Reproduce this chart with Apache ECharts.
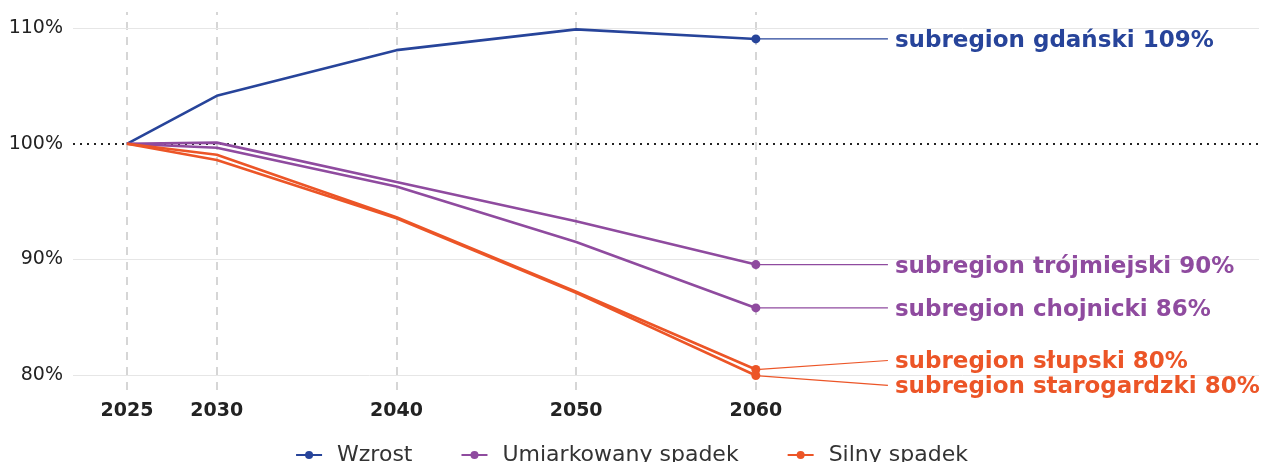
<!DOCTYPE html>
<html>
<head>
<meta charset="utf-8">
<script src="https://cdn.jsdelivr.net/npm/echarts@6/dist/echarts.min.js"></script>
<style>
  html, body { margin: 0; padding: 0; background: #fff; }
  #chart { width: 1263px; height: 462px; }
</style>
</head>
<body>
<div id="chart"></div>
<script>
// Population index (2025 = 100%) by subregion
const years = [2025, 2030, 2040, 2050, 2060];
const gdanski = [100, 104.15, 108.1, 109.9, 109.07];
const trojmiejski = [100, 100.1, 96.7, 93.3, 89.55];
const chojnicki = [100, 99.65, 96.3, 91.5, 85.8];
const slupski = [100, 99.05, 93.65, 87.2, 80.47];
const starogardzki = [100, 98.6, 93.55, 87.1, 79.95];

const regionNames = ['subregion gdański', 'subregion trójmiejski', 'subregion chojnicki', 'subregion słupski', 'subregion starogardzki'];
const groupNames = ['Wzrost', 'Umiarkowany spadek', 'Umiarkowany spadek', 'Silny spadek', 'Silny spadek'];
const legendNames = ['Wzrost', 'Umiarkowany spadek', 'Silny spadek'];
const yTicks = [80, 90, 100, 110];

// styling / layout
const groupColors = { 'Wzrost': '#27449a', 'Umiarkowany spadek': '#8f4b9f', 'Silny spadek': '#ec5527' };
const labelEndX = 2067.35;                 // where the leader lines end
const labelY = [null, null, null, 81.25, 79.1]; // separated label positions for overlapping ends
const FONT = '"DejaVu Sans", "Noto Sans", sans-serif';

const seriesData = [gdanski, trojmiejski, chojnicki, slupski, starogardzki];

const mainSeries = seriesData.map((vals, i) => ({
  name: groupNames[i],
  type: 'line',
  zlevel: 1,
  data: years.map((y, k) => [y, vals[k]]),
  color: groupColors[groupNames[i]],
  lineStyle: { width: 2.6 },
  symbol: 'circle',
  symbolSize: (v, p) => (p.dataIndex === years.length - 1 ? 9 : 0),
  showSymbol: true,
  z: 5,
  silent: true
}));

const leaderSeries = seriesData.map((vals, i) => {
  const last = vals[vals.length - 1];
  const ly = labelY[i] == null ? last : labelY[i];
  return {
    name: groupNames[i],
    type: 'line',
    zlevel: 1,
    data: [[years[years.length - 1], last], [labelEndX, ly]],
    color: groupColors[groupNames[i]],
    lineStyle: { width: 1.2 },
    symbol: 'none',
    z: 4,
    silent: true,
    endLabel: {
      show: true,
      distance: 7,
      offset: [0, 2],
      formatter: () => regionNames[i] + ' ' + Math.round(last) + '%',
      color: groupColors[groupNames[i]],
      fontFamily: FONT,
      fontWeight: 'bold',
      fontSize: 23
    }
  };
});

// frame lines: vertical dashed year guides, horizontal grid lines, dotted 100% baseline
const frameSeries = {
  type: 'line',
  data: [],
  silent: true,
  zlevel: 0,
  z: 1,
  markLine: {
    silent: true,
    symbol: 'none',
    label: { show: false },
    animation: false,
    data: [
      ...years.map(y => ({ xAxis: y, lineStyle: { color: '#d6d6d6', width: 2, type: [8, 7] } })),
      ...yTicks.filter(t => t !== 100).map(t => ({ yAxis: t, lineStyle: { color: '#e6e6e6', width: 1, type: 'solid' } })),
      { yAxis: 100, lineStyle: { color: '#222', width: 2, type: [2, 5] } }
    ]
  }
};

const chart = echarts.init(document.getElementById('chart'), null, { renderer: 'canvas' });
chart.setOption({
  animation: false,
  backgroundColor: '#fff',
  grid: { left: 73, right: 4, top: 12, bottom: 72, containLabel: false },
  xAxis: {
    type: 'value',
    min: 2022,
    max: 2088,
    axisLine: { show: false },
    axisTick: { show: false },
    splitLine: { show: false },
    axisLabel: {
      customValues: years,
      formatter: v => String(v),
      margin: 12,
      color: '#222',
      fontFamily: FONT,
      fontWeight: 'bold',
      fontSize: 19
    }
  },
  yAxis: {
    type: 'value',
    min: 78.7,
    max: 111.4,
    axisLine: { show: false },
    axisTick: { show: false },
    splitLine: { show: false },
    axisLabel: {
      customValues: yTicks,
      formatter: v => v + '%',
      margin: 10,
      color: '#222',
      fontFamily: FONT,
      fontSize: 19
    }
  },
  legend: {
    data: legendNames,
    top: 439,
    left: 'center',
    itemWidth: 26,
    itemHeight: 10,
    itemGap: 48,
    textStyle: { color: '#333', fontFamily: FONT, fontSize: 22, padding: [0, 0, 0, 10] }
  },
  series: [frameSeries, ...mainSeries, ...leaderSeries]
});
</script>
</body>
</html>
